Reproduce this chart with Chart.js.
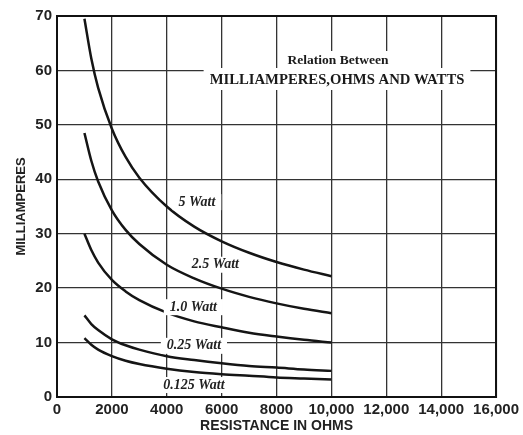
<!DOCTYPE html>
<html>
<head>
<meta charset="utf-8">
<script src="https://cdn.jsdelivr.net/npm/chart.js@4"></script>
<style>
  html, body { margin: 0; padding: 0; background: #fff; }
  #wrap { width: 523px; height: 435px; }
</style>
</head>
<body>
<div id="wrap"><canvas id="ohmsChart"></canvas></div>
<script>
// resistance in ohms (x) and current in milliamperes for each wattage
const resistance = [1000, 1250, 1500, 2000, 2500, 3000, 4000, 5000, 6000, 7000, 8000, 9000, 10000];
const watt5     = [69.5, 62.2, 56.8, 49.3, 44.1, 40.3, 35.0, 31.3, 28.6, 26.5, 24.8, 23.4, 22.2];
const watt2_5   = [48.5, 43.4, 39.6, 34.3, 30.7, 28.1, 24.3, 21.8, 19.9, 18.4, 17.2, 16.2, 15.4];
const watt1     = [30.0, 27.0, 24.7, 21.5, 19.4, 17.8, 15.5, 13.9, 12.8, 11.8, 11.1, 10.5, 10.0];
const watt0_25  = [15.0, 13.4, 12.3, 10.6, 9.5, 8.7, 7.5, 6.8, 6.2, 5.7, 5.4, 5.05, 4.8];
const watt0_125 = [10.8, 9.6, 8.7, 7.5, 6.65, 6.05, 5.2, 4.6, 4.2, 3.9, 3.6, 3.4, 3.2];

const xTickLabels = ['0', '2000', '4000', '6000', '8000', '10,000', '12,000', '14,000', '16,000'];
const yTickLabels = ['0', '10', '20', '30', '40', '50', '60', '70'];

// curve captions, placed in data units
const curveNames = ['5 Watt', '2.5 Watt', '1.0 Watt', '0.25 Watt', '0.125 Watt'];
const curveNameX = [5100, 5770, 4970, 4990, 4990];
const curveNameY = [35.8, 24.3, 16.5, 9.4, 2.2];

const titleLines = ['Relation Between', 'MILLIAMPERES,OHMS AND WATTS'];

function series(values) {
  return {
    data: values.map((v, i) => ({ x: resistance[i], y: v })),
    borderColor: '#151515',
    borderWidth: 2.5,
    pointRadius: 0,
    fill: false,
    cubicInterpolationMode: 'monotone'
  };
}

// frame, captions and the boxed title
const decorPlugin = {
  id: 'decor',
  afterDatasetsDraw(chart) {
    const ctx = chart.ctx;
    const area = chart.chartArea;
    const xs = chart.scales.x, ys = chart.scales.y;
    ctx.save();

    ctx.strokeStyle = '#111';
    ctx.lineWidth = 2;
    ctx.strokeRect(area.left, area.top, area.right - area.left, area.bottom - area.top);

    // title
    ctx.textAlign = 'center';
    ctx.textBaseline = 'middle';
    ctx.font = 'bold 13.5px "Liberation Serif", serif';
    let w = ctx.measureText(titleLines[0]).width;
    ctx.fillStyle = '#fff';
    ctx.fillRect(338 - w / 2 - 5, 51, w + 10, 18);
    ctx.font = 'bold 14.7px "Liberation Serif", serif';
    w = ctx.measureText(titleLines[1]).width;
    ctx.fillRect(337 - w / 2 - 6, 68, w + 12, 22);
    ctx.fillStyle = '#1a1a1a';
    ctx.font = 'bold 13.5px "Liberation Serif", serif';
    ctx.fillText(titleLines[0], 338, 61);
    ctx.font = 'bold 14.7px "Liberation Serif", serif';
    ctx.fillText(titleLines[1], 337, 80);

    // curve names
    ctx.font = 'italic bold 14px "Liberation Serif", serif';
    curveNames.forEach((name, i) => {
      const px = xs.getPixelForValue(curveNameX[i]);
      const py = ys.getPixelForValue(curveNameY[i]);
      const tw = ctx.measureText(name).width;
      ctx.fillStyle = '#fff';
      ctx.fillRect(px - tw / 2 - 6, py - 8, tw + 12, 16);
      ctx.fillStyle = '#222';
      ctx.fillText(name, px, py);
    });
    ctx.restore();
  }
};

const tickFont = { family: '"Liberation Sans Narrow", "Liberation Sans", sans-serif', size: 15, weight: 'bold' };

new Chart(document.getElementById('ohmsChart').getContext('2d'), {
  type: 'line',
  data: {
    datasets: [series(watt5), series(watt2_5), series(watt1), series(watt0_25), series(watt0_125)]
  },
  options: {
    responsive: true,
    maintainAspectRatio: false,
    animation: false,
    layout: { padding: { left: 8, top: 16, right: 25, bottom: 0 } },
    plugins: { legend: { display: false }, tooltip: { enabled: false } },
    scales: {
      x: {
        type: 'linear',
        min: 0,
        max: 16000,
        afterFit(scale) { scale.height = 38; },
        ticks: {
          stepSize: 2000,
          padding: 4,
          maxRotation: 0,
          color: '#222',
          font: tickFont,
          callback: (v) => xTickLabels[Math.round(v / 2000)]
        },
        grid: { color: '#333', lineWidth: 1.3, drawTicks: false },
        border: { color: '#111', width: 2 },
        title: {
          display: true,
          text: 'RESISTANCE IN OHMS',
          color: '#222',
          padding: { top: 1, bottom: 0 },
          font: { family: '"Liberation Sans Narrow", "Liberation Sans", sans-serif', size: 14, weight: 'bold' }
        }
      },
      y: {
        min: 0,
        max: 70,
        afterFit(scale) { scale.width = 49; },
        ticks: {
          stepSize: 10,
          padding: 5,
          color: '#222',
          font: tickFont,
          callback: (v) => yTickLabels[Math.round(v / 10)]
        },
        grid: { color: '#333', lineWidth: 1.3, drawTicks: false },
        border: { color: '#111', width: 2 },
        title: {
          display: true,
          text: 'MILLIAMPERES',
          color: '#222',
          padding: { top: 6, bottom: 0 },
          font: { family: '"Liberation Sans Narrow", "Liberation Sans", sans-serif', size: 13, weight: 'bold' }
        }
      }
    }
  },
  plugins: [decorPlugin]
});
</script>
</body>
</html>
